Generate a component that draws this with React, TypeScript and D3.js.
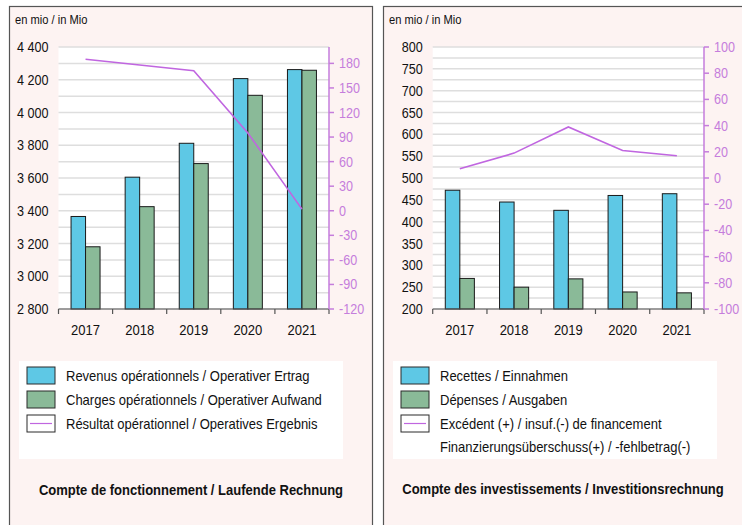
import React from 'react';
import * as d3 from 'd3';

const years = ['2017', '2018', '2019', '2020', '2021'];
const opRevenue = [3365, 3605, 3812, 4207, 4262];
const opExpense = [3180, 3425, 3688, 4105, 4258];
const opResult = [185, 178, 171, 95, 2];
const invRevenue = [472, 445, 426, 460, 464];
const invExpense = [270, 250, 269, 239, 237];
const invBalance = [7, 19, 39, 21, 17];

const leftTicksL = d3.range(2800, 4401, 200);
const leftGridL = d3.range(2800, 4401, 100);
const rightTicksL = d3.range(-120, 181, 30);
const leftTicksR = d3.range(200, 801, 50);
const leftGridR = d3.range(200, 801, 25);
const rightTicksR = d3.range(-100, 101, 20);

const BLUE = '#5ec8e5';
const GREEN = '#8aba98';
const PURPLE_LINE = '#c066e0';
const PURPLE_AXIS = '#c57ddc';
const FONT = "'Liberation Sans', Arial, sans-serif";
const SX = 0.93;

function T({ x, y, anchor = 'start', size = 14, weight = 'normal', fill = '#111', sx = SX, children }: any) {
  return (
    <text
      transform={`translate(${x},${y}) scale(${sx},1)`}
      textAnchor={anchor}
      fontFamily={FONT}
      fontSize={size}
      fontWeight={weight}
      fill={fill}
    >
      {children}
    </text>
  );
}

const fmt = (v: number) => (v >= 1000 ? d3.format(',')(v).replace(',', ' ') : String(v));

function Chart({ x0, x1, yTop, yBot, dom, domR, ticks, grid, ticksR, rev, exp, line }: any) {
  const x = d3.scaleBand<string>().domain(years).range([x0, x1]).padding(0);
  const y = d3.scaleLinear().domain(dom).range([yBot, yTop]);
  const yR = d3.scaleLinear().domain(domR).range([yBot, yTop]);
  const bw = x.bandwidth() * 0.268;
  const cx = (d: string) => (x(d) as number) + x.bandwidth() / 2;
  const lineGen = d3
    .line<number>()
    .x((_, i) => cx(years[i]))
    .y((v) => yR(v));
  return (
    <g>
      <rect x={x0} y={yTop} width={x1 - x0} height={yBot - yTop} fill="#fff" />
      {grid.map((g: number) => (
        <line key={g} x1={x0} x2={x1} y1={y(g)} y2={y(g)} stroke="#dedede" strokeWidth={1.5} />
      ))}
      {years.map((yr, i) => (
        <g key={yr}>
          <rect x={cx(yr) - bw} y={y(rev[i])} width={bw} height={yBot - y(rev[i])} fill={BLUE} stroke="#1a1a1a" strokeWidth={1} />
          <rect x={cx(yr)} y={y(exp[i])} width={bw} height={yBot - y(exp[i])} fill={GREEN} stroke="#1a1a1a" strokeWidth={1} />
        </g>
      ))}
      <path d={lineGen(line) as string} fill="none" stroke={PURPLE_LINE} strokeWidth={1.6} />
      <line x1={x0} x2={x1} y1={yBot} y2={yBot} stroke="#555" strokeWidth={1.2} />
      {[...years.map((d) => x(d) as number), x1].map((p, i) => (
        <line key={i} x1={p} x2={p} y1={yBot} y2={yBot + 5} stroke="#555" strokeWidth={1.2} />
      ))}
      {years.map((yr) => (
        <T key={yr} x={cx(yr)} y={yBot + 26} anchor="middle">{yr}</T>
      ))}
      {ticks.map((t: number) => (
        <T key={t} x={x0 - 10} y={y(t) + 5} anchor="end" sx={0.9}>{fmt(t)}</T>
      ))}
      <line x1={x1} x2={x1} y1={yTop} y2={yBot} stroke={PURPLE_AXIS} strokeWidth={1.5} />
      {ticksR.map((t: number) => (
        <g key={t}>
          <line x1={x1} x2={x1 + 5} y1={yR(t)} y2={yR(t)} stroke={PURPLE_AXIS} strokeWidth={1.5} />
          <T x={x1 + 10} y={yR(t) + 5} fill={PURPLE_AXIS} sx={0.9}>{String(t)}</T>
        </g>
      ))}
    </g>
  );
}

function Legend({ x, y, w, h, items }: any) {
  return (
    <g>
      <rect x={x} y={y} width={w} height={h} fill="#fff" />
      {items.map((it: any, i: number) => {
        const sy = y + 6 + i * 24;
        return (
          <g key={i}>
            <rect x={x + 8} y={sy} width={28} height={17} fill={it.fill} stroke="#2a2a2a" strokeWidth={1} />
            {it.line && <line x1={x + 11} x2={x + 33} y1={sy + 8.5} y2={sy + 8.5} stroke={PURPLE_LINE} strokeWidth={1.2} />}
            {it.labels.map((l: string, j: number) => (
              <T key={j} x={x + 47} y={sy + 14 + j * 23}>{l}</T>
            ))}
          </g>
        );
      })}
    </g>
  );
}

export default function App() {
  return (
    <svg width={742} height={525} style={{ position: 'absolute', left: 0, top: 0 }}>
      <rect x={0} y={0} width={742} height={525} fill="#fff" />
      <rect x={9.5} y={6.5} width={363} height={600} fill="#fdf3f2" stroke="#555" strokeWidth={1.2} />
      <rect x={383.5} y={6.5} width={400} height={600} fill="#fdf3f2" stroke="#555" strokeWidth={1.2} />
      <T x={15} y={24} size={12}>en mio / in Mio</T>
      <T x={389} y={24} size={12}>en mio / in Mio</T>
      <Chart x0={58.5} x1={329} yTop={47} yBot={309} dom={[2800, 4400]} domR={[-120, 200]}
        ticks={leftTicksL} grid={leftGridL} ticksR={rightTicksL} rev={opRevenue} exp={opExpense} line={opResult} />
      <Chart x0={432.7} x1={704} yTop={47} yBot={309} dom={[200, 800]} domR={[-100, 100]}
        ticks={leftTicksR} grid={leftGridR} ticksR={rightTicksR} rev={invRevenue} exp={invExpense} line={invBalance} />
      <Legend x={19} y={361} w={324} h={98} items={[
        { fill: BLUE, labels: ['Revenus opérationnels / Operativer Ertrag'] },
        { fill: GREEN, labels: ['Charges opérationnels / Operativer Aufwand'] },
        { fill: '#fff', line: true, labels: ['Résultat opérationnel / Operatives Ergebnis'] },
      ]} />
      <Legend x={393} y={361} w={324} h={98} items={[
        { fill: BLUE, labels: ['Recettes / Einnahmen'] },
        { fill: GREEN, labels: ['Dépenses / Ausgaben'] },
        { fill: '#fff', line: true, labels: ['Excédent (+) / insuf.(-) de financement', 'Finanzierungsüberschuss(+) / -fehlbetrag(-)'] },
      ]} />
      <T x={191} y={495} anchor="middle" weight="bold">Compte de fonctionnement / Laufende Rechnung</T>
      <T x={563} y={494} anchor="middle" weight="bold">Compte des investissements / Investitionsrechnung</T>
    </svg>
  );
}
